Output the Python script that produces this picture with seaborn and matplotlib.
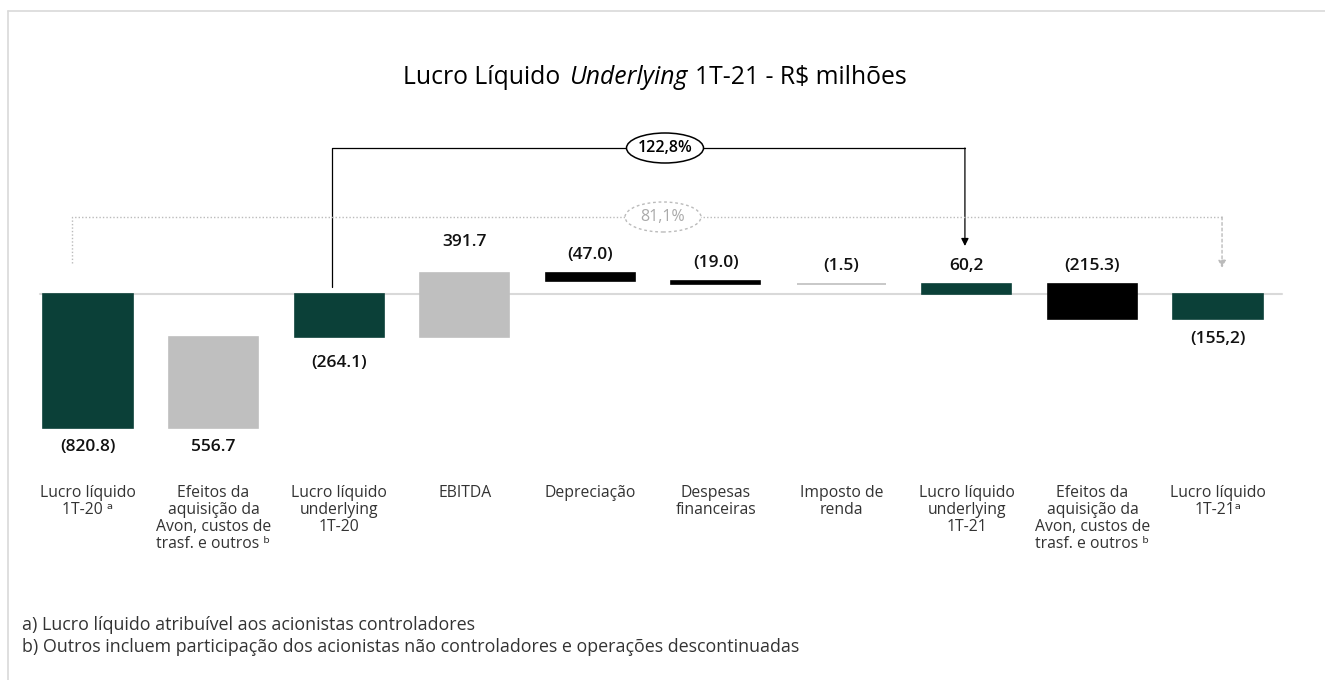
import matplotlib
matplotlib.use("Agg")
import matplotlib.pyplot as plt
from matplotlib.lines import Line2D
from matplotlib.patches import Ellipse
from matplotlib.offsetbox import TextArea, HPacker, AnnotationBbox
import seaborn as sns
import pandas as pd

# ---------------- data ----------------
categories = [
    "Lucro líquido\n1T-20 ᵃ",
    "Efeitos da\naquisição da\nAvon, custos de\ntrasf. e outros ᵇ",
    "Lucro líquido\nunderlying\n1T-20",
    "EBITDA",
    "Depreciação",
    "Despesas\nfinanceiras",
    "Imposto de\nrenda",
    "Lucro líquido\nunderlying\n1T-21",
    "Efeitos da\naquisição da\nAvon, custos de\ntrasf. e outros ᵇ",
    "Lucro líquido\n1T-21ᵃ",
]
values = [-820.8, 556.7, -264.1, 391.7, -47.0, -19.0, -1.5, 60.2, -215.3, -155.2]
kinds = ["total", "delta", "total", "delta", "delta", "delta", "delta", "total", "delta", "total"]
value_labels = ["(820.8)", "556.7", "(264.1)", "391.7", "(47.0)", "(19.0)", "(1.5)",
                "60,2", "(215.3)", "(155,2)"]
growth_underlying = "122,8%"
growth_net = "81,1%"
footnotes = ["a) Lucro líquido atribuível aos acionistas controladores",
             "b) Outros incluem participação dos acionistas não controladores e operações descontinuadas"]

GREEN, GRAY, BLACK = "#0B4038", "#BFBFBF", "#000000"
bar_colors = [GREEN, GRAY, GREEN, GRAY, BLACK, BLACK, GRAY, GREEN, BLACK, GREEN]

# ---------------- waterfall geometry ----------------
bottoms, heights = [], []
running = 0.0
for v, k in zip(values, kinds):
    if k == "total":
        bottoms.append(0.0)
        running = v
    else:
        bottoms.append(running)
        running += v
    heights.append(v)

# ---------------- layout constants (pixels) ----------------
W, H = 1325, 680
SPACING = 125.56      # px between category centers
FIRST_CENTER = 88.0   # px x of first bar center
ZERO_Y = 294.0        # px y of zero line (from top)
SCALE = 0.1633        # px per R$ million


def px(p):
    return (p - FIRST_CENTER) / SPACING


def py(p):
    return (ZERO_Y - p) / SCALE


sns.set_style("white")
plt.rcParams["font.family"] = ["Open Sans", "DejaVu Sans"]

fig = plt.figure(figsize=(W / 100, H / 100), dpi=100)
ax = fig.add_axes([0, 0, 1, 1])

df = pd.DataFrame({"key": [f"k{i}" for i in range(len(values))], "height": heights})
sns.barplot(data=df, x="key", y="height", color=BLACK, width=0.71,
            errorbar=None, saturation=1, ax=ax, zorder=3)
for patch, b, c in zip(ax.patches, bottoms, bar_colors):
    patch.set_y(b)
    patch.set_facecolor(c)
    patch.set_edgecolor(c)
    patch.set_linewidth(1.2)

ax.set_xlim(px(0), px(W))
ax.set_ylim(py(H), py(0))
ax.axis("off")

# zero line
ax.plot([px(40), px(1282)], [0, 0], color="#D9D9D9", lw=1.5, zorder=2)

# value labels (extra pixel nudges for a couple of labels)
nudge = {2: -6, 3: 13}
for i, (b, h, lab) in enumerate(zip(bottoms, heights, value_labels)):
    top, bot = max(b, b + h), min(b, b + h)
    extra = nudge.get(i, 0) * 0.72
    if top > 0:
        ax.annotate(lab, (i, top), xytext=(0, 13 + extra), textcoords="offset points",
                    ha="center", va="center", fontsize=12.5, fontweight="semibold", color="#111111")
    else:
        ax.annotate(lab, (i, bot), xytext=(0, -14 + extra), textcoords="offset points",
                    ha="center", va="center", fontsize=12.5, fontweight="semibold", color="#111111")

# category labels
for i, cat in enumerate(categories):
    ax.text(i, py(485), cat, ha="center", va="top", fontsize=11.3, color="#333333",
            linespacing=1.08)

# solid bracket (underlying growth)
yb = py(148)
xl, xr = 2 - 7 / SPACING, 7 - 2 / SPACING
ax.plot([xl, xl, xr], [py(287), yb, yb], color="black", lw=0.9, zorder=4)
ax.annotate("", xy=(xr, py(246)), xytext=(xr, yb),
            arrowprops=dict(arrowstyle="-|>", color="black", lw=0.9,
                            mutation_scale=11, shrinkA=0, shrinkB=0), zorder=4)
ex = px(665)
ax.add_patch(Ellipse((ex, yb), 77 / SPACING, 30 / SCALE, facecolor="white",
                     edgecolor="black", lw=1.1, zorder=5))
ax.text(ex, yb, growth_underlying, ha="center", va="center", fontsize=11.5,
        fontweight="semibold", color="black", zorder=6)

# dotted bracket (net income growth)
yg = py(217)
gl, gr = 0 - 16 / SPACING, 9 + 4 / SPACING
ax.plot([gl, gl, gr], [py(263), yg, yg], color="#BBBBBB", lw=1.0, ls=(0, (1, 1.5)), zorder=4)
ax.annotate("", xy=(gr, py(268)), xytext=(gr, yg),
            arrowprops=dict(arrowstyle="-|>", color="#BBBBBB", lw=1.0, ls=(0, (2, 2)),
                            mutation_scale=11, shrinkA=0, shrinkB=0), zorder=4)
ex2 = px(663)
ax.add_patch(Ellipse((ex2, yg), 76 / SPACING, 30 / SCALE, facecolor="white",
                     edgecolor="#BBBBBB", lw=1.0, ls=(0, (2, 2)), zorder=5))
ax.text(ex2, yg, growth_net, ha="center", va="center", fontsize=11.5,
        color="#AAAAAA", zorder=6)

# title with italic part
tp = dict(fontsize=17.8, color="black")
parts = [TextArea("Lucro Líquido", textprops=tp),
         TextArea("Underlying", textprops=dict(tp, fontstyle="italic")),
         TextArea("1T-21 - R$ milhões", textprops=tp)]
box = HPacker(children=parts, sep=6, pad=0, align="baseline")
fig.add_artist(AnnotationBbox(box, (655 / W, 1 - 78 / H), xycoords="figure fraction",
                              frameon=False, box_alignment=(0.5, 0.5)))

# footnotes
for k, note in enumerate(footnotes):
    fig.text(22 / W, 1 - (625 + 22 * k) / H, note, ha="left", va="center",
             fontsize=12.9, color="#333333")

# outer frame (top and left)
fig.add_artist(Line2D([8 / W, 1], [1 - 11 / H, 1 - 11 / H], color="#D9D9D9", lw=1.2))
fig.add_artist(Line2D([8 / W, 8 / W], [0, 1 - 11 / H], color="#D9D9D9", lw=1.2))

fig.savefig("out.png", dpi=100)
